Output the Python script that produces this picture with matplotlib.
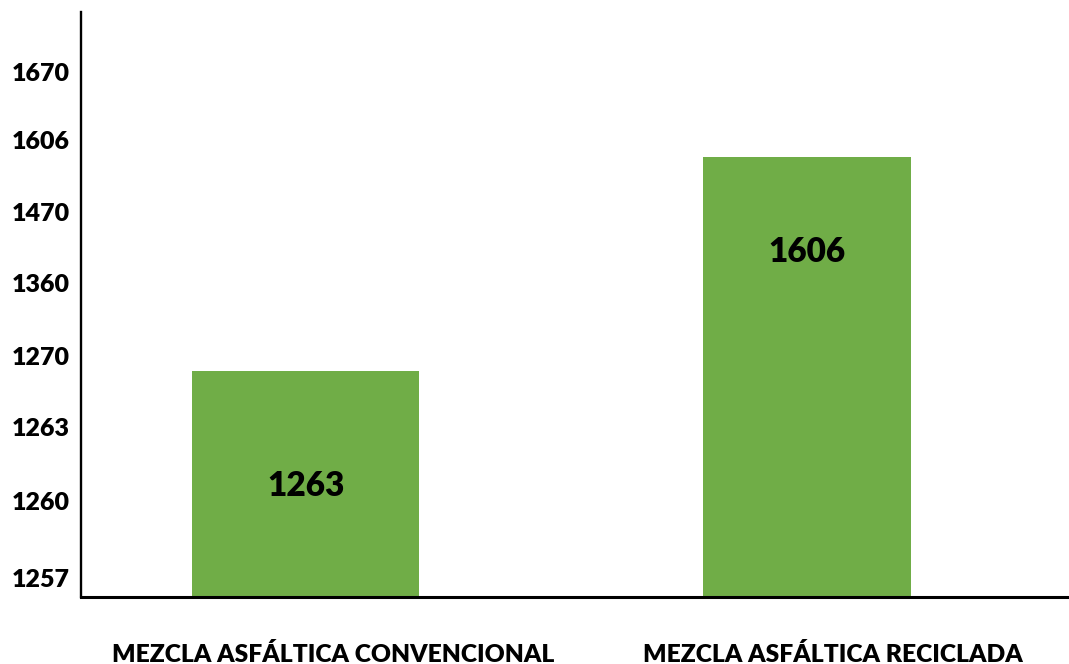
import matplotlib
matplotlib.use("Agg")
import matplotlib.pyplot as plt
import numpy as np

categories = ["MEZCLA ASFÁLTICA CONVENCIONAL", "MEZCLA ASFÁLTICA RECICLADA"]
values = [1263, 1606]
tick_labels = ["1257", "1260", "1263", "1270", "1360", "1470", "1606", "1670"]

plt.rcParams['font.family'] = ['Lato', 'DejaVu Sans']

W, H = 1069, 664
fig = plt.figure(figsize=(W / 100, H / 100), dpi=100)
left_px, right_px, top_px, bottom_px = 81, 1069, 12, 597
ax = fig.add_axes([left_px / W, 1 - bottom_px / H, (right_px - left_px) / W, (bottom_px - top_px) / H])

# axis range (layout)
y_lo, y_hi = 900.8, 1838.4
ax.set_ylim(y_lo, y_hi)
ax.set_xlim(-0.5, 1.5)
px_per_unit = (bottom_px - top_px) / (y_hi - y_lo)

bar_pos = [-0.045, 0.97]
bar_w = [0.46, 0.42]
green = "#70AD47"
ax.bar(bar_pos, np.array(values) - y_lo, width=bar_w, bottom=y_lo, color=green, zorder=2)

label_frac = [0.493, 0.784]
for x, v, f in zip(bar_pos, values, label_frac):
    ax.text(x, y_lo + f * (v - y_lo), str(v), ha="center", va="center",
            fontsize=24, fontweight="heavy", color="black", zorder=3)

# tick layout (pixel rows of tick labels)
tick_rows = np.array([578, 501, 427, 356, 283, 212, 140, 72])
tick_pos = y_lo + (bottom_px - tick_rows) / px_per_unit
ax.set_yticks(tick_pos)
ax.set_yticklabels(tick_labels, fontsize=18, fontweight="heavy")
ax.tick_params(axis="y", length=0, pad=8)

ax.set_xticks([0.01, 1.022])
ax.set_xticklabels(categories, fontsize=17.7, fontweight="heavy")
ax.tick_params(axis="x", length=0, pad=33)

for s in ["top", "right"]:
    ax.spines[s].set_visible(False)
ax.spines["left"].set_linewidth(1.7)
ax.spines["bottom"].set_linewidth(2.2)
ax.spines["left"].set_color("black")
ax.spines["bottom"].set_color("black")

fig.savefig("out.png", dpi=100)
